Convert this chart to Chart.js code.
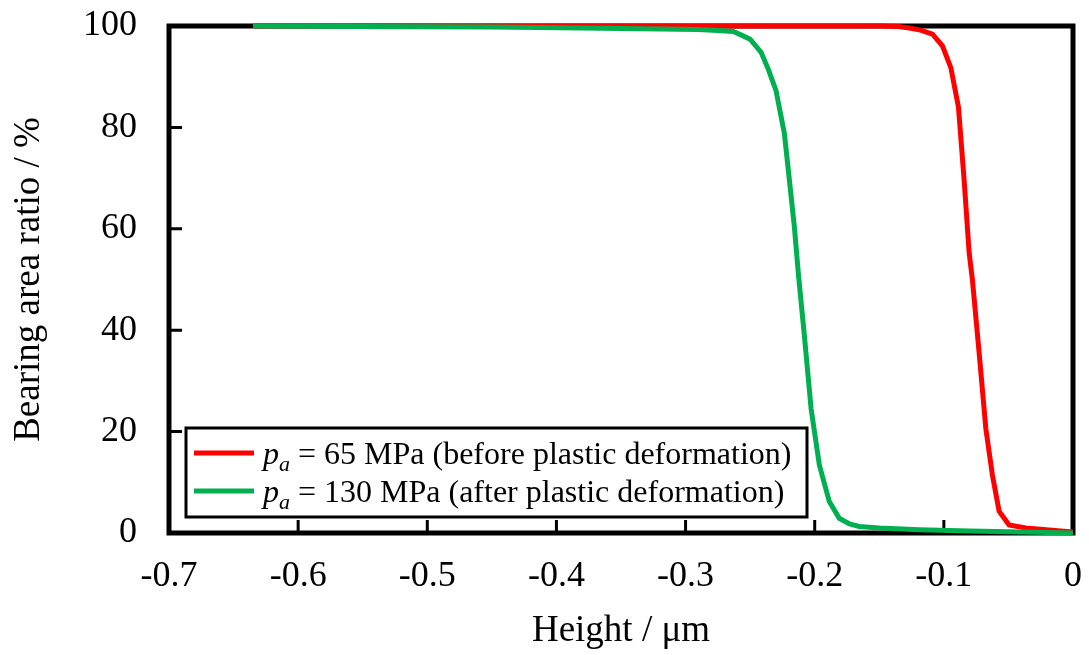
<!DOCTYPE html>
<html>
<head>
<meta charset="utf-8">
<script src="https://cdn.jsdelivr.net/npm/chart.js@4.4.1/dist/chart.umd.min.js"></script>
<style>
  html, body { margin: 0; padding: 0; background: #fff; }
  #wrap { width: 1089px; height: 655px; position: relative; }
</style>
</head>
<body>
<div id="wrap"><canvas id="bearingChart"></canvas></div>
<script>
// ---- data: bearing area ratio curves ----
const xTicks = [-0.7, -0.6, -0.5, -0.4, -0.3, -0.2, -0.1, 0];
const yTicks = [0, 20, 40, 60, 80, 100];

// pa = 65 MPa (before plastic deformation)
const redHeight = [-0.635, -0.3, -0.15, -0.135, -0.1268, -0.118, -0.1088, -0.1011, -0.0946, -0.0887,
                   -0.0843, -0.0804, -0.0779, -0.0727, -0.0675, -0.0624, -0.0572, -0.0495, -0.0366, -0.0186, 0];
const redRatio  = [100, 100, 100, 99.9, 99.6, 99.2, 98.4, 96.1, 91.8, 84.0,
                   69.6, 55.2, 50.0, 35.6, 20.6, 11.4, 4.3, 1.6, 1.0, 0.6, 0.2];

// pa = 130 MPa (after plastic deformation)
const greenHeight = [-0.635, -0.55, -0.45, -0.38, -0.32, -0.29, -0.275, -0.263, -0.255, -0.25,
                     -0.2415, -0.236, -0.23, -0.2235, -0.2196, -0.2158, -0.2125, -0.208, -0.2028, -0.1964,
                     -0.1887, -0.181, -0.173, -0.1655, -0.15, -0.119, -0.08, -0.04, 0];
const greenRatio  = [100, 99.9, 99.8, 99.6, 99.4, 99.3, 99.1, 98.9, 98.0, 97.4,
                     94.8, 91.5, 87.3, 78.8, 69.6, 60.5, 50.7, 38.9, 24.5, 13.4,
                     6.2, 2.9, 1.8, 1.3, 1.0, 0.65, 0.4, 0.2, 0];

const legendLabels = [
  { color: '#ff0000', text: ' = 65 MPa (before plastic deformation)' },
  { color: '#00b050', text: ' = 130 MPa (after plastic deformation)' }
];

const SERIF = '"Liberation Serif", "Times New Roman", serif';

function toPoints(xs, ys) {
  return xs.map((x, i) => ({ x: x, y: ys[i] }));
}

// keep tick labels from pushing the plot area around
function noOverflow(s) {
  s.paddingTop = 0;
  s.paddingBottom = 0;
  s.paddingLeft = 0;
  s.paddingRight = 0;
}

// frame + inward tick marks, drawn under the curves
const framePlugin = {
  id: 'frame',
  beforeDatasetsDraw(chart) {
    const { ctx, chartArea: a, scales } = chart;
    ctx.save();
    ctx.strokeStyle = '#000';
    ctx.lineWidth = 5;
    ctx.lineJoin = 'miter';
    ctx.strokeRect(a.left, a.top, a.right - a.left, a.bottom - a.top);
    ctx.lineWidth = 3;
    ctx.beginPath();
    xTicks.forEach(v => {
      const px = scales.x.getPixelForValue(v);
      ctx.moveTo(px, a.bottom);
      ctx.lineTo(px, a.bottom - 13);
    });
    yTicks.forEach(v => {
      const py = scales.y.getPixelForValue(v);
      ctx.moveTo(a.left, py);
      ctx.lineTo(a.left + 13, py);
    });
    ctx.stroke();
    ctx.restore();
  }
};

// boxed legend with italic p and subscript a
const legendPlugin = {
  id: 'boxLegend',
  afterDatasetsDraw(chart) {
    const ctx = chart.ctx;
    const box = { x: 186, y: 428, w: 621, h: 89 };
    ctx.save();
    ctx.fillStyle = '#fff';
    ctx.fillRect(box.x, box.y, box.w, box.h);
    ctx.strokeStyle = '#000';
    ctx.lineWidth = 3;
    ctx.strokeRect(box.x, box.y, box.w, box.h);
    legendLabels.forEach((item, i) => {
      const cy = box.y + 25 + i * 38;
      ctx.strokeStyle = item.color;
      ctx.lineWidth = 5;
      ctx.beginPath();
      ctx.moveTo(box.x + 8, cy);
      ctx.lineTo(box.x + 68, cy);
      ctx.stroke();

      ctx.fillStyle = '#000';
      ctx.textBaseline = 'alphabetic';
      const base = cy + 11;
      let tx = box.x + 77;
      ctx.font = 'italic 32px ' + SERIF;
      ctx.fillText('p', tx, base);
      tx += ctx.measureText('p').width;
      ctx.font = 'italic 22px ' + SERIF;
      ctx.fillText('a', tx, base + 7);
      tx += ctx.measureText('a').width;
      ctx.font = '32px ' + SERIF;
      ctx.fillText(item.text, tx, base);
    });
    ctx.restore();
  }
};

new Chart(document.getElementById('bearingChart'), {
  type: 'line',
  data: {
    datasets: [
      {
        label: 'pa = 130 MPa (after plastic deformation)',
        data: toPoints(greenHeight, greenRatio),
        borderColor: '#00b050',
        borderWidth: 5,
        pointRadius: 0,
        tension: 0,
        clip: false
      },
      {
        label: 'pa = 65 MPa (before plastic deformation)',
        data: toPoints(redHeight, redRatio),
        borderColor: '#ff0000',
        borderWidth: 5,
        pointRadius: 0,
        tension: 0,
        clip: false
      }
    ]
  },
  options: {
    responsive: true,
    maintainAspectRatio: false,
    animation: false,
    layout: { padding: { top: 26, right: 16, left: 0, bottom: 0 } },
    plugins: { legend: { display: false }, tooltip: { enabled: false } },
    scales: {
      x: {
        type: 'linear',
        min: -0.7,
        max: 0,
        afterBuildTicks: s => { s.ticks = xTicks.map(v => ({ value: v })); },
        afterFit: s => { s.height = 122; noOverflow(s); },
        grid: { display: false, drawTicks: false },
        border: { display: false },
        ticks: {
          padding: 22,
          color: '#000',
          font: { family: SERIF, size: 36 },
          maxRotation: 0,
          callback: v => (Math.abs(v) < 1e-9 ? '0' : v.toFixed(1))
        },
        title: {
          display: true,
          text: 'Height / μm',
          color: '#000',
          font: { family: SERIF, size: 37 },
          padding: { top: 0, bottom: 2 }
        }
      },
      y: {
        min: 0,
        max: 100,
        afterBuildTicks: s => { s.ticks = yTicks.map(v => ({ value: v })); },
        afterFit: s => { s.width = 169; noOverflow(s); },
        grid: { display: false, drawTicks: false },
        border: { display: false },
        ticks: {
          padding: 32,
          color: '#000',
          font: { family: SERIF, size: 36 }
        },
        title: {
          display: true,
          text: 'Bearing area ratio / %',
          color: '#000',
          font: { family: SERIF, size: 37 },
          padding: { top: 7, bottom: 0 }
        }
      }
    }
  },
  plugins: [framePlugin, legendPlugin]
});
</script>
</body>
</html>
